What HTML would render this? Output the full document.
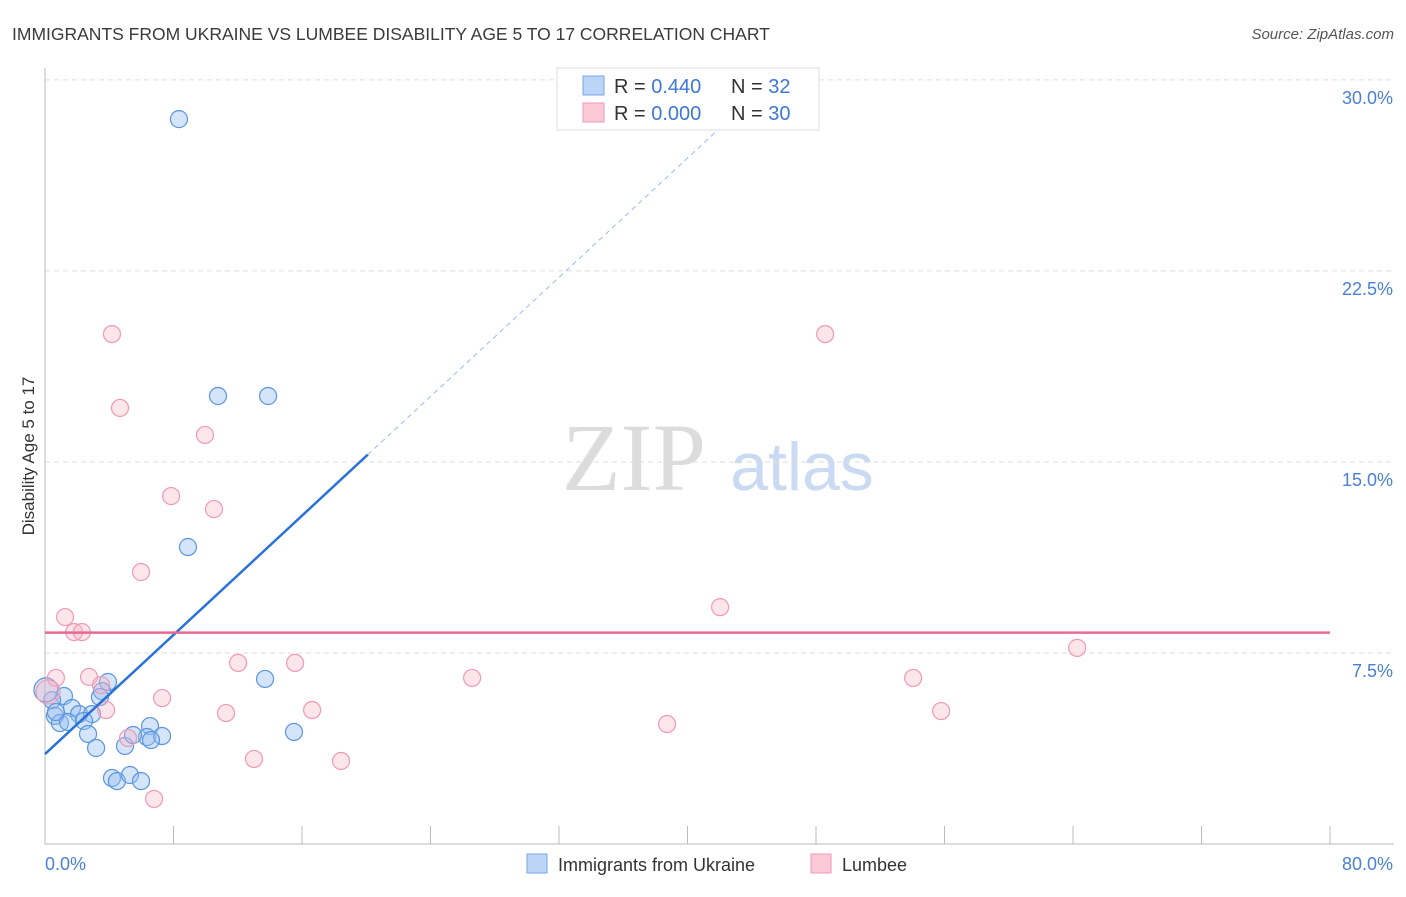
<!DOCTYPE html>
<html><head><meta charset="utf-8"><style>
body{margin:0;background:#fff;font-family:"Liberation Sans",sans-serif}
svg text{font-family:"Liberation Sans",sans-serif}
</style></head><body>
<svg width="1406" height="892" xmlns="http://www.w3.org/2000/svg">
<text x="12" y="40" font-size="17.5" fill="#3a3a3a">IMMIGRANTS FROM UKRAINE VS LUMBEE DISABILITY AGE 5 TO 17 CORRELATION CHART</text>
<text x="1394" y="39" font-size="15" fill="#555" text-anchor="end" font-style="italic">Source: ZipAtlas.com</text>
<text x="634" y="490" font-size="96" fill="#dcdcdc" text-anchor="middle" font-family="Liberation Serif" style="font-family:'Liberation Serif',serif">ZIP</text>
<text x="802" y="490" font-size="68" fill="#c9daf2" text-anchor="middle">atlas</text>
<g id="grid"></g>
<g id="axes"></g>
<g id="marks"></g>
<text transform="translate(34,456) rotate(-90)" font-size="17" fill="#333" text-anchor="middle">Disability Age 5 to 17</text>
<g>
<rect x="557" y="68" width="262" height="62" fill="#fff" stroke="#ddd"/>
<rect x="583" y="76" width="21" height="19" fill="#bcd5f7" stroke="#7aa6e8"/>
<rect x="583" y="103" width="21" height="19" fill="#fbc9d8" stroke="#ef9ab5"/>
<text x="614" y="93" font-size="20" fill="#333">R = <tspan fill="#3d78d8">0.440</tspan></text>
<text x="731" y="93" font-size="20" fill="#333">N = <tspan fill="#3d78d8">32</tspan></text>
<text x="614" y="120" font-size="20" fill="#333">R = <tspan fill="#3d78d8">0.000</tspan></text>
<text x="731" y="120" font-size="20" fill="#333">N = <tspan fill="#3d78d8">30</tspan></text>
</g>
<g>
<rect x="527" y="854" width="20" height="19" fill="#bcd5f7" stroke="#7aa6e8"/>
<text x="558" y="871" font-size="18" fill="#333">Immigrants from Ukraine</text>
<rect x="811" y="854" width="20" height="19" fill="#fbc9d8" stroke="#ef9ab5"/>
<text x="842" y="871" font-size="18" fill="#333">Lumbee</text>
</g>
</svg>
<script>
const yTicks=[7.5,15,22.5,30];
const yTickLabels=["7.5%","15.0%","22.5%","30.0%"];
const xTicks=[0,8,16,24,32,40,48,56,64,72,80];
const xEndLabels=["0.0%","80.0%"];
const ukraineX=[8.34,10.77,13.89,8.9,13.7,15.5,3.92,3.55,1.18,0.44,3.42,1.68,2.12,2.93,0.62,0.93,1.43,2.43,2.68,3.18,6.54,6.35,7.29,6.6,4.98,5.48,4.17,4.48,5.29,5.98,0.06,0.68];
const ukraineY=[28.46,17.59,17.59,11.66,6.48,4.40,6.36,6.0,5.81,5.65,5.77,5.34,5.1,5.1,5.03,4.75,4.79,4.83,4.32,3.77,4.63,4.2,4.24,4.08,3.85,4.28,2.59,2.47,2.71,2.47,6.05,5.18];
const lumbeeX=[4.17,48.57,4.67,9.96,7.85,10.52,5.98,1.25,1.81,2.3,42.03,64.26,0.68,2.74,3.49,12.02,15.57,7.29,3.8,11.27,16.63,26.59,54.05,55.79,38.73,5.17,13.01,18.43,6.79,0.19];
const lumbeeY=[20.02,20.02,17.12,16.06,13.66,13.15,10.68,8.91,8.32,8.32,9.3,7.7,6.52,6.56,6.24,7.11,7.11,5.73,5.26,5.14,5.26,6.52,6.52,5.22,4.71,4.16,3.34,3.26,1.77,5.97];
const ukraineTrend=[3.53,0.585];
const lumbeeTrend=[8.3];
const NS="http://www.w3.org/2000/svg";
const X=v=>45+v*16.0625, Y=v=>844-v*25.47;
function mk(tag,attrs,parent){const e=document.createElementNS(NS,tag);for(const k in attrs)e.setAttribute(k,attrs[k]);document.getElementById(parent).appendChild(e);return e;}
yTicks.forEach((t,i)=>{
 const l=mk('line',{x1:45,x2:1394,y1:Y(t),y2:Y(t),stroke:'#ddd','stroke-dasharray':'5,4'},'grid');
 
 
 const tx=mk('text',{x:1393,y:Y(t)+24,'font-size':18,fill:'#4a80d6','text-anchor':'end'},'grid');tx.textContent=yTickLabels[i];
 
 
});
const ax=mk('line',{x1:45,x2:1394,y1:844,y2:844,stroke:'#bbb'},'axes');


const ay=mk('line',{x1:45,x2:45,y1:68,y2:844,stroke:'#bbb'},'axes');


xTicks.forEach((t,i)=>{if(i===0)return;
 const l=mk('line',{x1:X(t),x2:X(t),y1:826,y2:844,stroke:'#bbb'},'axes');
 
 
});
const xl0=mk('text',{x:45,y:870,'font-size':18,fill:'#4a80d6'},'axes');xl0.textContent=xEndLabels[0];


const xl1=mk('text',{x:1393,y:870,'font-size':18,fill:'#4a80d6','text-anchor':'end'},'axes');xl1.textContent=xEndLabels[1];


ukraineX.forEach((x,i)=>{const r=i===30?12:8.5;
 const c=mk('circle',{cx:X(x),cy:Y(ukraineY[i]),r:r,fill:'rgba(150,190,240,0.4)',stroke:'#5a95e0','stroke-width':1.2},'marks');
 
 
});
lumbeeX.forEach((x,i)=>{const r=i===29?12:8.5;
 const c=mk('circle',{cx:X(x),cy:Y(lumbeeY[i]),r:r,fill:'rgba(248,180,200,0.35)',stroke:'#ee9ab4','stroke-width':1.2},'marks');
 
 
});
const f=x=>ukraineTrend[0]+ukraineTrend[1]*x;
const t1=mk('line',{x1:X(0),y1:Y(f(0)),x2:X(20.1),y2:Y(f(20.1)),stroke:'#2a72d8','stroke-width':2.5},'marks');


const t2=mk('line',{x1:X(20.1),y1:Y(f(20.1)),x2:X(43.3),y2:Y(f(43.3)),stroke:'#9bbbe8','stroke-width':1,'stroke-dasharray':'5,4'},'marks');


const t3=mk('line',{x1:X(0),y1:Y(lumbeeTrend[0]),x2:X(80),y2:Y(lumbeeTrend[0]),stroke:'#e86a94','stroke-width':2.5},'marks');


</script>
</body></html>
